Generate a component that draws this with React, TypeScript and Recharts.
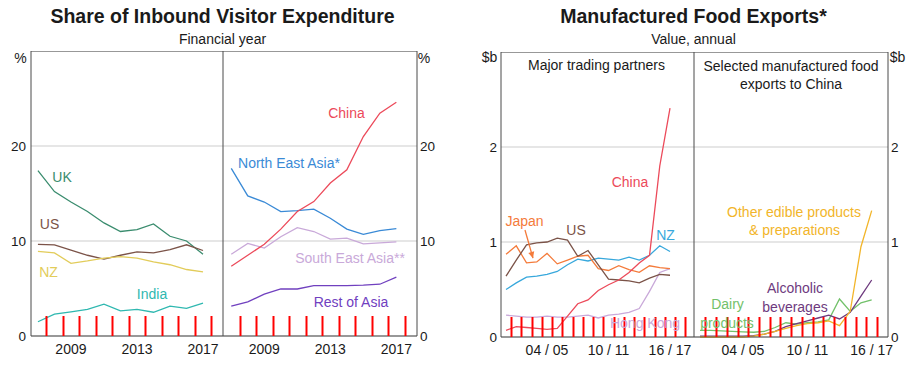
import React from 'react';
import { ComposedChart, Line, XAxis, YAxis, CartesianGrid, ReferenceLine } from 'recharts';

// Share of inbound visitor expenditure, financial years
const visitorYears = [2007, 2008, 2009, 2010, 2011, 2012, 2013, 2014, 2015, 2016, 2017];
const ukShare = [17.4, 15.2, 14.1, 13.1, 11.9, 11.0, 11.2, 11.8, 10.5, 10.0, 8.6];
const usShare = [9.65, 9.6, 9.05, 8.5, 8.1, 8.5, 8.85, 8.75, 9.1, 9.6, 9.0];
const nzShare = [8.9, 8.75, 7.65, 7.9, 8.2, 8.35, 8.2, 7.8, 7.5, 7.0, 6.75];
const indiaShare = [1.5, 2.3, 2.55, 2.8, 3.35, 2.65, 2.8, 2.5, 3.15, 2.9, 3.45];
const chinaShare = [7.35, 8.5, 9.65, 11.25, 13.1, 14.15, 16.1, 17.5, 21.0, 23.45, 24.6];
const northEastAsiaShare = [17.65, 14.75, 14.1, 13.1, 13.2, 13.35, 12.4, 11.25, 10.7, 11.1, 11.3];
const southEastAsiaShare = [8.6, 9.75, 9.25, 10.45, 11.4, 11.0, 10.2, 10.3, 9.7, 9.8, 9.9];
const restOfAsiaShare = [3.15, 3.6, 4.4, 4.95, 4.95, 5.3, 5.3, 5.3, 5.35, 5.45, 6.2];
const visitorLabelYears = [2009, 2013, 2017];
const visitorLabelText = ['2009', '2013', '2017'];
const visitorYTicks = [0, 10, 20];

// Manufactured food exports, $b, financial years 00/01 .. 16/17
const foodYears = [2001, 2002, 2003, 2004, 2005, 2006, 2007, 2008, 2009, 2010, 2011, 2012, 2013, 2014, 2015, 2016, 2017];
const chinaFood = [0.07, 0.11, 0.10, 0.09, 0.08, 0.09, 0.22, 0.35, 0.39, 0.49, 0.55, 0.60, 0.68, 0.78, 0.86, 1.80, 2.41];
const japanFood = [0.87, 0.96, 0.78, 0.79, 0.88, 0.77, 0.81, 0.85, 0.86, 0.72, 0.70, 0.75, 0.71, 0.68, 0.75, 0.73, 0.72];
const usFood = [0.64, 0.81, 0.97, 0.99, 1.0, 1.04, 1.02, 0.85, 0.91, 0.76, 0.61, 0.60, 0.59, 0.57, 0.62, 0.66, 0.65];
const nzFood = [0.50, 0.57, 0.63, 0.64, 0.66, 0.69, 0.76, 0.82, 0.80, 0.83, 0.82, 0.81, 0.84, 0.81, 0.86, 0.96, 0.90];
const hongKongFood = [0.23, 0.22, 0.21, 0.21, 0.22, 0.21, 0.21, 0.22, 0.23, 0.20, 0.23, 0.24, 0.26, 0.30, 0.48, 0.68, 0.72];
const dairyToChina = [0.07, 0.07, 0.065, 0.06, 0.055, 0.05, 0.06, 0.10, 0.15, 0.135, 0.15, 0.16, 0.18, 0.40, 0.27, 0.36, 0.39];
const alcoholToChina = [0.01, 0.01, 0.01, 0.01, 0.01, 0.015, 0.03, 0.06, 0.11, 0.14, 0.17, 0.20, 0.23, 0.19, 0.26, 0.43, 0.60];
const otherEdibleToChina = [0.0, 0.0, 0.0, 0.0, 0.0, 0.01, 0.03, 0.06, 0.09, 0.12, 0.14, 0.15, 0.17, 0.12, 0.27, 0.95, 1.33];
const foodLabelYears = [2005, 2011, 2017];
const foodLabelText = ['04 / 05', '10 / 11', '16 / 17'];
const foodYTicks = [0, 1, 2];

const FONT = '"Liberation Sans", Arial, Helvetica, sans-serif';
const INK = '#1a1a1a';
const FRAME = '#4a4a4a';

const C = {
  uk: '#3a8c6e',
  us: '#7b5348',
  nz: '#e2cc5a',
  india: '#2fb8b0',
  china: '#ec4a5a',
  nea: '#3a8ad6',
  sea: '#c9a9d9',
  roa: '#7040bf',
  japan: '#f47b3b',
  nzFood: '#38a8dc',
  other: '#f2b52a',
  alcohol: '#6e3a7e',
  dairy: '#72c16a',
};

function rows(years: number[], cols: Record<string, number[]>) {
  return years.map((year, i) => {
    const r: Record<string, number> = { year };
    Object.keys(cols).forEach((k) => (r[k] = cols[k][i]));
    return r;
  });
}

const visitorLeft = rows(visitorYears, { UK: ukShare, US: usShare, NZ: nzShare, India: indiaShare });
const visitorRight = rows(visitorYears, {
  China: chinaShare,
  NEA: northEastAsiaShare,
  SEA: southEastAsiaShare,
  ROA: restOfAsiaShare,
});
const foodPartners = rows(foodYears, {
  China: chinaFood,
  Japan: japanFood,
  US: usFood,
  NZ: nzFood,
  HK: hongKongFood,
});
const foodToChina = rows(foodYears, { Dairy: dairyToChina, Alcohol: alcoholToChina, Other: otherEdibleToChina });

// one reference segment from the first to the last year boundary; its shape draws
// a tick at each boundary. (test colours / sizes to check that it renders)
const makeMarkRail = (marks: number[]) => (props: any) => {
  const { x1, y1, x2, y2 } = props;
  if ([x1, y1, x2, y2].some((v) => typeof v !== 'number' || isNaN(v))) return <g />;
  const first = marks[0];
  const last = marks[marks.length - 1];
  const base = Math.max(y1, y2);
  return (
    <g>
      {marks.map((m, i) => {
        const x = Math.round(x1 + ((x2 - x1) * (m - first)) / (last - first)) + 0.5;
        return <line key={i} x1={x} x2={x} y1={base} y2={base - 20} stroke="#ff0000" strokeWidth={2} />;
      })}
    </g>
  );
};

type Series = { key: string; color: string };

interface PanelProps {
  left: number;
  top: number;
  plotWidth: number;
  plotHeight: number;
  yAxisWidth: number;
  side: 'left' | 'right';
  data: Record<string, number>[];
  series: Series[];
  xDomain: [number, number];
  markYears: number[];
  labelYears: number[];
  labelText: string[];
  yDomain: [number, number];
  yTicks: number[];
  yTickMargin: number;
  children?: React.ReactNode;
}

function Panel(p: PanelProps) {
  const renderTick = (props: any) => {
    const { x, y, payload } = props;
    const idx = p.labelYears.indexOf(payload.value);
    return (
      <text x={x} y={y + 8} dy="0.71em" textAnchor="middle" fontSize={14} fill={INK} fontFamily={FONT}>
        {idx >= 0 ? p.labelText[idx] : ''}
      </text>
    );
  };
  const firstMark = p.markYears[0];
  const lastMark = p.markYears[p.markYears.length - 1];
  return (
    <div style={{ position: 'absolute', left: p.left, top: p.top }}>
      <ComposedChart
        width={p.plotWidth + p.yAxisWidth}
        height={p.plotHeight + 26}
        data={p.data}
        margin={{ top: 0, right: 0, bottom: 0, left: 0 }}
      >
        <CartesianGrid vertical={false} stroke="#cdcdcd" />
        <XAxis
          dataKey="year"
          type="number"
          domain={p.xDomain}
          ticks={p.labelYears}
          interval={0}
          height={26}
          axisLine={false}
          tickLine={false}
          tickSize={0}
          tickMargin={0}
          tick={renderTick}
        />
        <YAxis
          orientation={p.side}
          width={p.yAxisWidth}
          type="number"
          domain={p.yDomain}
          ticks={p.yTicks}
          interval={0}
          axisLine={false}
          tickLine={false}
          tickSize={0}
          tickMargin={p.yTickMargin}
          tick={{ fontSize: 13.5, fill: INK, fontFamily: FONT }}
        />
        {p.series.map((s) => (
          <Line
            key={s.key}
            dataKey={s.key}
            stroke={s.color}
            strokeWidth={1.3}
            dot={false}
            type="linear"
            isAnimationActive={false}
          />
        ))}
        {/* frame */}
        <ReferenceLine y={p.yDomain[1]} stroke={FRAME} ifOverflow="visible" />
        <ReferenceLine y={p.yDomain[0]} stroke={FRAME} ifOverflow="visible" />
        <ReferenceLine x={p.xDomain[0]} stroke={FRAME} ifOverflow="visible" />
        <ReferenceLine x={p.xDomain[1]} stroke={FRAME} ifOverflow="visible" />
        {/* year-boundary tick marks */}
        <ReferenceLine
          segment={[
            { x: firstMark, y: p.yDomain[0] },
            { x: lastMark, y: p.yDomain[1] / 2 },
          ]}
          stroke={FRAME}
          shape={makeMarkRail(p.markYears)}
          ifOverflow="visible"
        />
        {p.children}
      </ComposedChart>
    </div>
  );
}

const Tag = ({ x, y, color = INK, size = 14, bold = false, children }: any) => (
  <div
    style={{
      position: 'absolute',
      left: x,
      top: y,
      transform: 'translate(-50%, -50%)',
      color,
      fontSize: size,
      fontWeight: bold ? 700 : 400,
      whiteSpace: 'nowrap',
      lineHeight: 1,
    }}
  >
    {children}
  </div>
);

const arrowShape = (props: any) => {
  const { x1, y1, x2, y2, stroke } = props;
  if ([x1, y1, x2, y2].some((v) => typeof v !== 'number')) return <g />;
  const ang = Math.atan2(y2 - y1, x2 - x1);
  const len = 7;
  const spread = 0.45;
  const ax = x2 - len * Math.cos(ang - spread);
  const ay = y2 - len * Math.sin(ang - spread);
  const bx = x2 - len * Math.cos(ang + spread);
  const by = y2 - len * Math.sin(ang + spread);
  return (
    <g>
      <line x1={x1} y1={y1} x2={x2} y2={y2} stroke={stroke} strokeWidth={1.3} />
      <polygon points={`${x2},${y2} ${ax},${ay} ${bx},${by}`} fill={stroke} />
    </g>
  );
};

export default function App() {
  const visitorMarks = visitorYears.map((y) => y + 0.5);
  const foodMarks = foodYears.map((y) => y + 0.5);
  const foodMarksLong = [...foodMarks, foodMarks[foodMarks.length - 1] + 1];
  return (
    <div
      style={{
        position: 'absolute',
        left: 0,
        top: 0,
        width: 918,
        height: 368,
        background: '#fff',
        fontFamily: FONT,
        color: INK,
        overflow: 'hidden',
      }}
    >
      {/* left chart: visitor expenditure */}
      <Tag x={222.5} y={17} size={19.5} bold>
        Share of Inbound Visitor Expenditure
      </Tag>
      <Tag x={222.5} y={39}>Financial year</Tag>
      <Tag x={20.5} y={58}>%</Tag>
      <Tag x={424} y={58}>%</Tag>

      <Panel
        left={0}
        top={51}
        plotWidth={192}
        plotHeight={285}
        yAxisWidth={31}
        side="left"
        data={visitorLeft}
        series={[
          { key: 'UK', color: C.uk },
          { key: 'US', color: C.us },
          { key: 'NZ', color: C.nz },
          { key: 'India', color: C.india },
        ]}
        xDomain={[2006.58, 2018.21]}
        markYears={visitorMarks}
        labelYears={visitorLabelYears}
        labelText={visitorLabelText}
        yDomain={[0, 30]}
        yTicks={visitorYTicks}
        yTickMargin={5}
      />
      <Panel
        left={223}
        top={51}
        plotWidth={194}
        plotHeight={285}
        yAxisWidth={25}
        side="right"
        data={visitorRight}
        series={[
          { key: 'SEA', color: C.sea },
          { key: 'ROA', color: C.roa },
          { key: 'NEA', color: C.nea },
          { key: 'China', color: C.china },
        ]}
        xDomain={[2006.5, 2018.25]}
        markYears={visitorMarks}
        labelYears={visitorLabelYears}
        labelText={visitorLabelText}
        yDomain={[0, 30]}
        yTicks={visitorYTicks}
        yTickMargin={3}
      />

      <Tag x={62} y={177} color={C.uk}>UK</Tag>
      <Tag x={49.5} y={224} color={C.us}>US</Tag>
      <Tag x={48.5} y={272} color={C.nz}>NZ</Tag>
      <Tag x={152} y={294} color={C.india}>India</Tag>
      <Tag x={346.5} y={113} color={C.china}>China</Tag>
      <Tag x={289} y={163} color={C.nea}>North East Asia*</Tag>
      <Tag x={350} y={258} color={C.sea}>South East Asia**</Tag>
      <Tag x={351} y={302} color={C.roa}>Rest of Asia</Tag>

      {/* right chart: manufactured food exports */}
      <Tag x={693.5} y={17} size={19.5} bold>
        Manufactured Food Exports*
      </Tag>
      <Tag x={693.5} y={39}>Value, annual</Tag>
      <Tag x={489.5} y={57}>$b</Tag>
      <Tag x={897.5} y={57}>$b</Tag>

      <Panel
        left={470}
        top={52}
        plotWidth={193}
        plotHeight={285}
        yAxisWidth={31}
        side="left"
        data={foodPartners}
        series={[
          { key: 'HK', color: C.sea },
          { key: 'NZ', color: C.nzFood },
          { key: 'Japan', color: C.japan },
          { key: 'US', color: C.us },
          { key: 'China', color: C.china },
        ]}
        xDomain={[2000.51, 2019.34]}
        markYears={foodMarksLong}
        labelYears={foodLabelYears}
        labelText={foodLabelText}
        yDomain={[0, 3]}
        yTicks={foodYTicks}
        yTickMargin={4}
      >
        <ReferenceLine
          segment={[
            { x: 2002.85, y: 1.126 },
            { x: 2003.63, y: 0.83 },
          ]}
          stroke={C.japan}
          shape={arrowShape}
          ifOverflow="visible"
        />
      </Panel>
      <Panel
        left={694}
        top={52}
        plotWidth={194}
        plotHeight={285}
        yAxisWidth={25}
        side="right"
        data={foodToChina}
        series={[
          { key: 'Dairy', color: C.dairy },
          { key: 'Alcohol', color: C.alcohol },
          { key: 'Other', color: C.other },
        ]}
        xDomain={[2000.44, 2018.52]}
        markYears={foodMarks}
        labelYears={foodLabelYears}
        labelText={foodLabelText}
        yDomain={[0, 3]}
        yTicks={foodYTicks}
        yTickMargin={3}
      />

      <Tag x={596.5} y={65}>Major trading partners</Tag>
      <Tag x={791} y={66}>Selected manufactured food</Tag>
      <Tag x={791} y={84}>exports to China</Tag>
      <Tag x={524.5} y={221} color={C.japan}>Japan</Tag>
      <Tag x={576} y={230} color={C.us}>US</Tag>
      <Tag x={630} y={182} color={C.china}>China</Tag>
      <Tag x={665.5} y={235} color={C.nzFood}>NZ</Tag>
      <Tag x={645} y={323} color={C.sea}>Hong Kong</Tag>
      <Tag x={794} y={212} color={C.other}>Other edible products</Tag>
      <Tag x={794.5} y={230} color={C.other}>&amp; preparations</Tag>
      <Tag x={795} y={288} color={C.alcohol}>Alcoholic</Tag>
      <Tag x={795} y={307} color={C.alcohol}>beverages</Tag>
      <Tag x={727.5} y={304} color={C.dairy}>Dairy</Tag>
      <Tag x={727} y={323} color={C.dairy}>products</Tag>
    </div>
  );
}
